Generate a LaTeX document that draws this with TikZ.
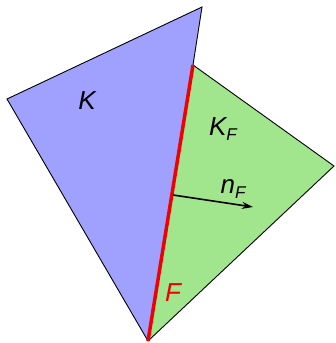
\documentclass[tikz,border=0pt]{standalone}
\usepackage{fontspec}
\setmainfont{Liberation Sans}
\usetikzlibrary{arrows.meta}
\definecolor{cellK}{RGB}{160,160,255}
\definecolor{cellKF}{RGB}{161,229,141}
\definecolor{faceF}{RGB}{240,0,0}
\tikzset{
  cell/.style={draw=black, line width=0.9pt, line join=miter},
  lbl/.style={inner sep=0pt, font=\fontsize{26}{28}\selectfont\itshape},
}
\newcommand{\subF}{{\fontsize{17}{18}\selectfont\raisebox{-5pt}{F}}}
\begin{document}
\begin{tikzpicture}[x=1pt,y=-1pt]
\useasboundingbox (0,0) rectangle (335,343);
\coordinate (L) at (7,99);
\coordinate (T) at (202,7);
\coordinate (J) at (193,65);
\coordinate (B) at (148,341);
\coordinate (R) at (334,166);
\fill[cellK] (L) -- (T) -- (J) -- (B) -- cycle;
\draw[cell] (B) -- (L) -- (T) -- (J);
\fill[cellKF] (J) -- (R) -- (B) -- cycle;
\draw[cell] (J) -- (R) -- (B);
\draw[faceF, line width=3.5pt] (J) -- (B);
\coordinate (A0) at (173,195);
\coordinate (A1) at (253,207);
\draw[line width=1.6pt, -{Stealth[length=11pt,width=7pt]}] (A0) -- (A1);
\node[lbl] (k) at (87,101) {K};
\node[lbl] (kf) at (223,129) {K\subF};
\node[lbl] (nf) at (233,189) {n\subF};
\node[lbl, text=faceF] (f) at (173,293) {F};
\end{tikzpicture}
\end{document}
